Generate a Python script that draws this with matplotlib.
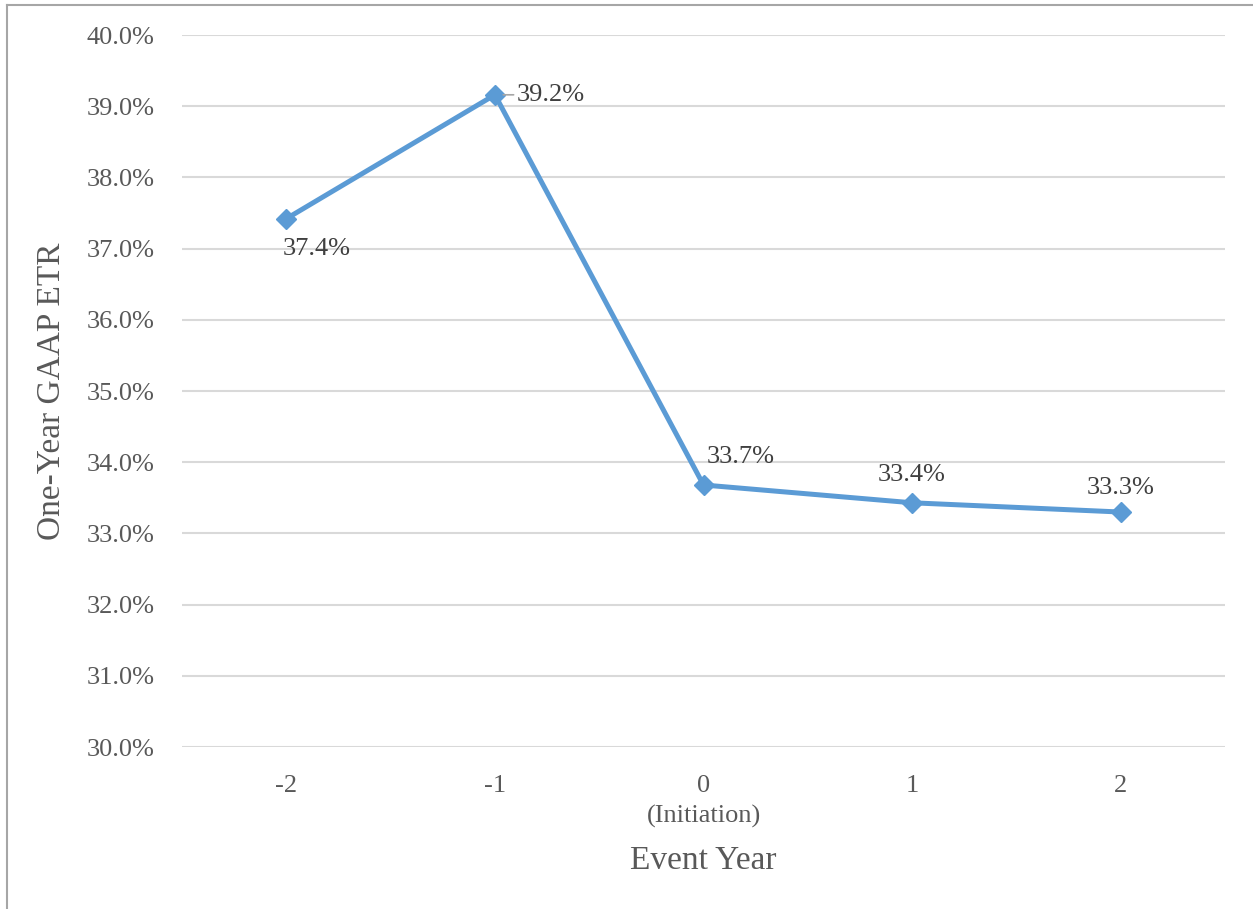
import matplotlib
matplotlib.use('Agg')
from matplotlib import pyplot as plt
from matplotlib.lines import Line2D

# one-year GAAP ETR around the event year
event_years = ['-2', '-1', '0\n(Initiation)', '1', '2']
etr = [37.42, 39.16, 33.68, 33.43, 33.30]
labels = ['37.4%', '39.2%', '33.7%', '33.4%', '33.3%']
y_ticks = [30, 31, 32, 33, 34, 35, 36, 37, 38, 39, 40]

plt.rcParams['font.family'] = ['Liberation Serif', 'DejaVu Serif']

fig = plt.figure(figsize=(12.53, 9.09), dpi=100)
ax = fig.add_axes([182 / 1253, 1 - 747 / 909, (1225 - 182) / 1253, (747 - 35) / 909])

x = list(range(len(etr)))
ax.plot(x, etr, color='#5B9BD5', linewidth=3.6, marker='D', markersize=10,
        markerfacecolor='#5B9BD5', markeredgecolor='#5B9BD5', zorder=3)

ax.set_xlim(-0.5, len(etr) - 0.5)
ax.set_ylim(30, 40)
ax.set_yticks(y_ticks)
ax.set_yticklabels(['{:.1f}%'.format(t) for t in y_ticks])
ax.set_xticks(x)
ax.set_xticklabels(event_years, linespacing=1.45)
ax.tick_params(axis='both', length=0, labelsize=19, labelcolor='#595959')
ax.tick_params(axis='y', pad=20)
ax.tick_params(axis='x', pad=20)

ax.grid(axis='y', color='#D9D9D9', linewidth=1.5)
ax.set_axisbelow(True)
for s in ax.spines.values():
    s.set_visible(False)

ax.set_ylabel('One-Year GAAP ETR', fontsize=24, color='#595959', labelpad=14)
ax.set_xlabel('Event Year', fontsize=24, color='#595959', labelpad=13)

# data labels: offsets in points from each marker
offsets = [(22, -22), (40, 0), (27, 20), (0, 20), (0, 17)]
for xi, yi, lab, off in zip(x, etr, labels, offsets):
    kw = {}
    if xi == 1:
        kw['arrowprops'] = dict(arrowstyle='-', color='#A6A6A6', lw=1.2,
                                shrinkA=0, shrinkB=6)
    ax.annotate(lab, (xi, yi), xytext=off, textcoords='offset points',
                ha='center', va='center', fontsize=19, color='#404040', **kw)

# outer chart border (top and left edges)
fig.add_artist(Line2D([7 / 1253, 7 / 1253], [0, 1 - 5 / 909], transform=fig.transFigure,
                      color='#A6A6A6', linewidth=1.5))
fig.add_artist(Line2D([7 / 1253, 1], [1 - 5 / 909, 1 - 5 / 909], transform=fig.transFigure,
                      color='#A6A6A6', linewidth=1.5))

fig.savefig('out.png', dpi=100)
